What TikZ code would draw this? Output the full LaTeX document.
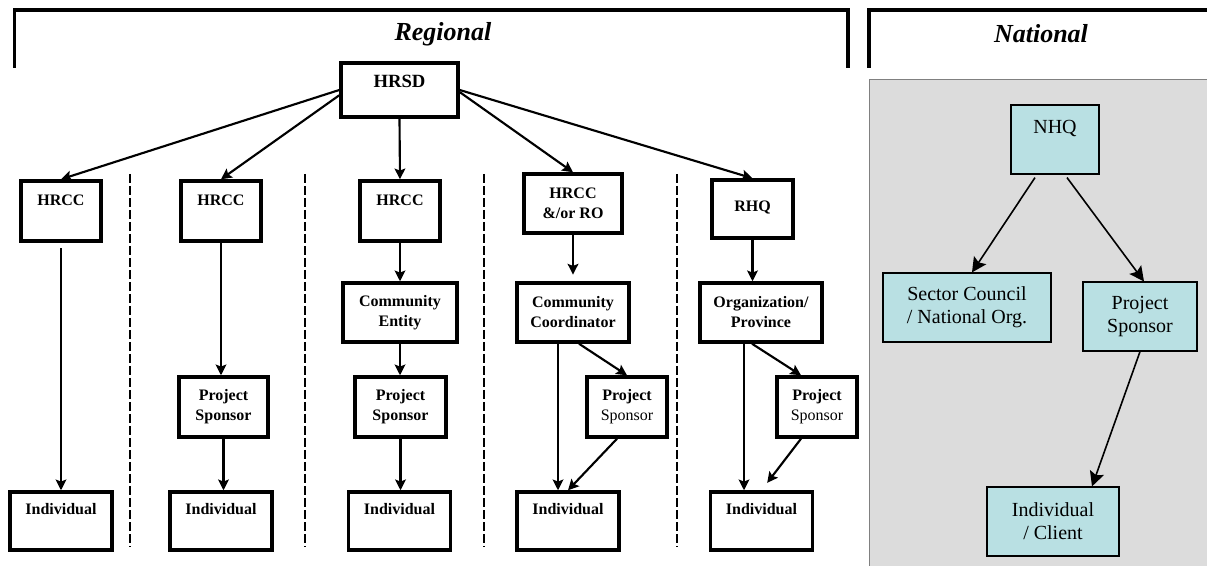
\documentclass[tikz,border=0pt]{standalone}
\usepackage{fontspec}
\setmainfont{Liberation Serif}
\usetikzlibrary{arrows.meta,calc}

\definecolor{panelgray}{HTML}{DCDCDC}
\definecolor{natfill}{HTML}{B9E0E3}

\tikzset{
    boxsize/.style 2 args={minimum width=#1*0.75pt, minimum height=#2*0.75pt},
    unit/.style={draw, line width=2.6pt, fill=white, inner sep=1pt, align=center, font=\fontsize{12}{15}\selectfont\bfseries},
    upper/.style={text height=8pt, text depth=#1},
    link/.style={line width=1.6pt, -{Stealth[length=8pt,width=8pt,inset=1.5pt]}},
    sep/.style={line width=1.5pt, dash pattern=on 6.75pt off 2.25pt},
    bracket/.style={line width=2.6pt},
    title/.style={font=\fontsize{19.5}{22}\selectfont\bfseries\itshape},
    nat/.style={draw, line width=0.9pt, fill=natfill, inner sep=1pt, align=center, font=\fontsize{15}{17.25}\selectfont},
    natlink/.style={line width=1.2pt, -{Stealth[length=11pt,width=11pt,inset=2pt]}}
}

\begin{document}
\begin{tikzpicture}[x=0.75pt, y=-0.75pt]
        \def\ccY{211}
        \def\midY{312.5}
        \def\psY{407}
        \def\indY{521}
        \useasboundingbox (0,0) rectangle (1207,566);

        % brackets and titles
        \draw [bracket] (14.5,68) -- (14.5,10) -- (848,10) -- (848,68);
        \draw [bracket] (869,68) -- (869,10) -- (1212,10);
        \node [title] (regional) at (443,34) {Regional};
        \node [title] (national) at (1041,34) {National};

        \foreach \x in {130,305,484,677} {
                \draw [sep] (\x,174) -- (\x,547);
            }

        % regional
        \node [unit, boxsize={117}{54}, upper=11pt, font=\fontsize{14}{16}\selectfont\bfseries] (hrsd) at (399.5,90) {HRSD};
        \foreach \x\name in {61/a,221/b,400/c} {
                \node [unit, boxsize={80}{60}, upper=16.5pt] (hrcc\name) at (\x,\ccY) {HRCC};
            }
        \node [unit, boxsize={98}{59}] (hrccd) at (573,203.5) {HRCC\\\&/or RO};
        \node [unit, boxsize={81}{58}, upper=4.5pt] (rhq) at (752.5,209) {RHQ};

        \node [unit, boxsize={114}{59}] (entity) at (400,\midY) {Community\\Entity};
        \node [unit, boxsize={112}{59}] (coord) at (573,\midY) {Community\\Coordinator};
        \node [unit, boxsize={122}{59}] (org) at (761,\midY) {Organization/\\Province};

        \node [unit, boxsize={89}{60}] (psb) at (223.5,\psY) {Project\\Sponsor};
        \node [unit, boxsize={91}{60}] (psc) at (400.5,\psY) {Project\\Sponsor};
        \node [unit, boxsize={80}{60}] (psd) at (627,\psY) {Project\\\mdseries Sponsor};
        \node [unit, boxsize={80}{60}] (pse) at (817,\psY) {Project\\\mdseries Sponsor};

        \foreach \x\name in {61/a,221/b,399.5/c,568/d,761.5/e} {
                \node [unit, boxsize={102}{58}, upper=18pt] (ind\name) at (\x,\indY) {Individual};
            }

        \draw [link] (hrsd.west) -- (hrcca.north);
        \draw [link] (hrsd.185) -- (hrccb.north);
        \draw [link] (hrsd.south) -- (hrccc.north);
        \draw [link] (hrsd.358) -- (hrccd.north);
        \draw [link] (hrsd.east) -- (rhq.north);

        \draw [link, shorten <=4pt] (hrcca.south) -- (inda.north);
        \draw [link] (hrccb.south) -- (hrccb.south |- psb.north);
        \draw [link] (psb.south) -- (psb.south |- indb.north);
        \foreach \a/\b in {hrccc/entity,entity/psc,psc/indc} {
                \draw [link] (\a.south) -- (\a.south |- \b.north);
            }

        \draw [link, shorten >=5pt] (hrccd.south) -- (hrccd.south |- coord.north);
        \coordinate (coordleft) at ($(coord.south)+(-15,0)$);
        \draw [link] (coordleft) -- (coordleft |- indd.north);
        \draw [link] ($(coord.south)+(6,0)$) -- (psd.north);
        \draw [link] ($(psd.south)+(-10,0)$) -- (indd.north);

        \draw [link] (rhq.south) -- (rhq.south |- org.north);
        \coordinate (orgleft) at ($(org.south)+(-17,0)$);
        \draw [link] (orgleft) -- (orgleft |- inde.north);
        \draw [link] ($(org.south)+(-9,0)$) -- ($(pse.north)+(-16,0)$);
        \draw [link, shorten >=7pt] ($(pse.south)+(-16,0)$) -- (inde.north);

        % national
        \draw [fill=panelgray, draw=gray, line width=0.75pt] (869,80) rectangle (1212,570);
        \node [nat, boxsize={88}{69}, text height=10pt, text depth=18.8pt] (nhq) at (1055,139.5) {NHQ};
        \node [nat, boxsize={168}{69}] (council) at (967,307.5) {Sector Council\\/ National Org.};
        \node [nat, boxsize={114}{69}] (psn) at (1140,316.5) {Project\\Sponsor};
        \node [nat, boxsize={132}{69}] (client) at (1053,521.5) {Individual\\/ Client};

        \draw [natlink] ($(nhq.south)+(-20,3)$) -- ($(council.north)+(5,0)$);
        \draw [natlink] ($(nhq.south)+(12,3)$) -- ($(psn.north)+(4,0)$);
        \draw [natlink] (psn.south) -- ($(client.north)+(39,0)$);

    \end{tikzpicture}
\end{document}
